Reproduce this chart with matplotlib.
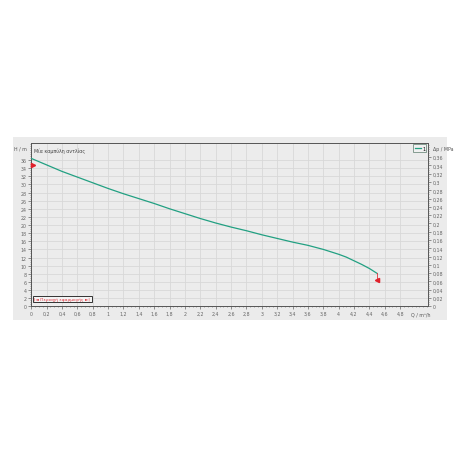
import matplotlib
matplotlib.use("Agg")
import matplotlib.pyplot as plt
import numpy as np
from matplotlib.patches import Rectangle
from matplotlib.ticker import MultipleLocator, FixedLocator

# data
q = [0.0, 0.2, 0.4, 0.6, 0.8, 1.0, 1.2, 1.4, 1.6, 1.8, 2.0, 2.2, 2.4, 2.6, 2.8, 3.0, 3.2, 3.4, 3.6, 3.8, 4.0, 4.1, 4.2, 4.3, 4.4, 4.5]
h = [36.4, 34.8, 33.2, 31.8, 30.4, 29.0, 27.7, 26.5, 25.3, 24.0, 22.8, 21.6, 20.5, 19.5, 18.6, 17.6, 16.7, 15.8, 15.0, 14.0, 12.8, 12.1, 11.2, 10.3, 9.3, 8.1]
op_start = (0.02, 34.9)
op_end = (4.5, 6.4)
x_ticks = [0, 0.2, 0.4, 0.6, 0.8, 1, 1.2, 1.4, 1.6, 1.8, 2, 2.2, 2.4, 2.6, 2.8, 3, 3.2, 3.4, 3.6, 3.8, 4, 4.2, 4.4, 4.6, 4.8]
y_ticks = list(range(0, 37, 2))
p_ticks = [round(0.02 * i, 2) for i in range(0, 19)]
title_text = "Μία καμπύλη αντλίας"
range_text = "Περιοχή εφαρμογής"
series_name = "1"

def fmt(v):
    s = ("%g" % v).replace(".", ",")
    return s

fig = plt.figure(figsize=(4.6, 4.6), dpi=100)
bg = Rectangle((0.028, 0.302), 0.944, 0.398, transform=fig.transFigure,
               facecolor="#ebebeb", edgecolor="none", zorder=-10)
fig.add_artist(bg)

ax = fig.add_axes([0.068, 0.332, 0.862, 0.355])
ax.set_zorder(1)
ax.set_facecolor("#ececec")
ax.set_xlim(0, 5.16)
ax.set_ylim(0, 40.2)

green = "#22a082"
ax.plot(q, h, color=green, lw=0.9, zorder=3, label=series_name)
# operating range markers
ax.plot([q[-1], op_end[0]], [h[-1], op_end[1]], color="#e0303a", lw=0.6, zorder=3)
ax.plot([op_start[0]], [op_start[1]], marker=">", color="#e0202a", ms=3, zorder=4, clip_on=False)
ax.plot([op_end[0]], [op_end[1]], marker="<", color="#e0202a", ms=3, zorder=4)

ax.xaxis.set_major_locator(FixedLocator(x_ticks))
ax.set_xticklabels([fmt(v) for v in x_ticks])
ax.xaxis.set_minor_locator(MultipleLocator(0.05))
ax.yaxis.set_major_locator(FixedLocator(y_ticks))
ax.set_yticklabels([fmt(v) for v in y_ticks])
ax.yaxis.set_minor_locator(MultipleLocator(0.5))
ax.grid(True, which="major", color="#d8d8d8", lw=0.6)
ax.set_axisbelow(True)
ax.tick_params(which="major", labelsize=3.4, length=2, width=0.5, colors="#666666", pad=1.5)
ax.tick_params(which="minor", length=1, width=0.4, colors="#666666")
for s in ax.spines.values():
    s.set_color("#555555")
    s.set_linewidth(0.7)

ax2 = ax.twinx()
ax2.set_ylim(0, 40.2 * 0.00981)
ax2.yaxis.set_major_locator(FixedLocator(p_ticks))
ax2.set_yticklabels([fmt(v) for v in p_ticks])
ax2.yaxis.set_minor_locator(MultipleLocator(0.005))
ax2.tick_params(which="major", labelsize=3.4, length=2, width=0.5, colors="#666666", pad=1.5)
ax2.tick_params(which="minor", length=1, width=0.4, colors="#666666")
for s in ax2.spines.values():
    s.set_visible(False)

# axis labels
ax.text(-0.012, 38.9, "H / m", fontsize=3.4, color="#555555", ha="right", va="center",
        transform=ax.get_yaxis_transform())
ax2.text(1.012, 38.9 * 0.00981, "Δp / MPa", fontsize=3.4, color="#555555", ha="left", va="center",
         transform=ax2.get_yaxis_transform())
ax.text(5.07, -0.035, "Q / m³/h", fontsize=3.4, color="#555555", ha="center", va="top",
        transform=ax.get_xaxis_transform())

ax.text(0.008, 0.975, title_text, fontsize=3.4, color="#444444", ha="left", va="top",
        transform=ax.transAxes)

ax.text(0.008, 0.045, "|◄ " + range_text + " ►|", fontsize=3.2, color="#e0303a", ha="left", va="center",
        transform=ax.transAxes,
        bbox=dict(boxstyle="square,pad=0.3", facecolor="#f4f4f4", edgecolor="#333333", lw=0.7))

leg = ax.legend(loc="upper right", fontsize=3.4, handlelength=1.2, frameon=True,
                borderpad=0.3, handletextpad=0.3, borderaxespad=0.3, fancybox=False)
leg.get_frame().set_edgecolor("#557766")
leg.get_frame().set_linewidth(0.6)
leg.get_frame().set_facecolor("#f2f2f2")

fig.savefig("out.png", dpi=100)
